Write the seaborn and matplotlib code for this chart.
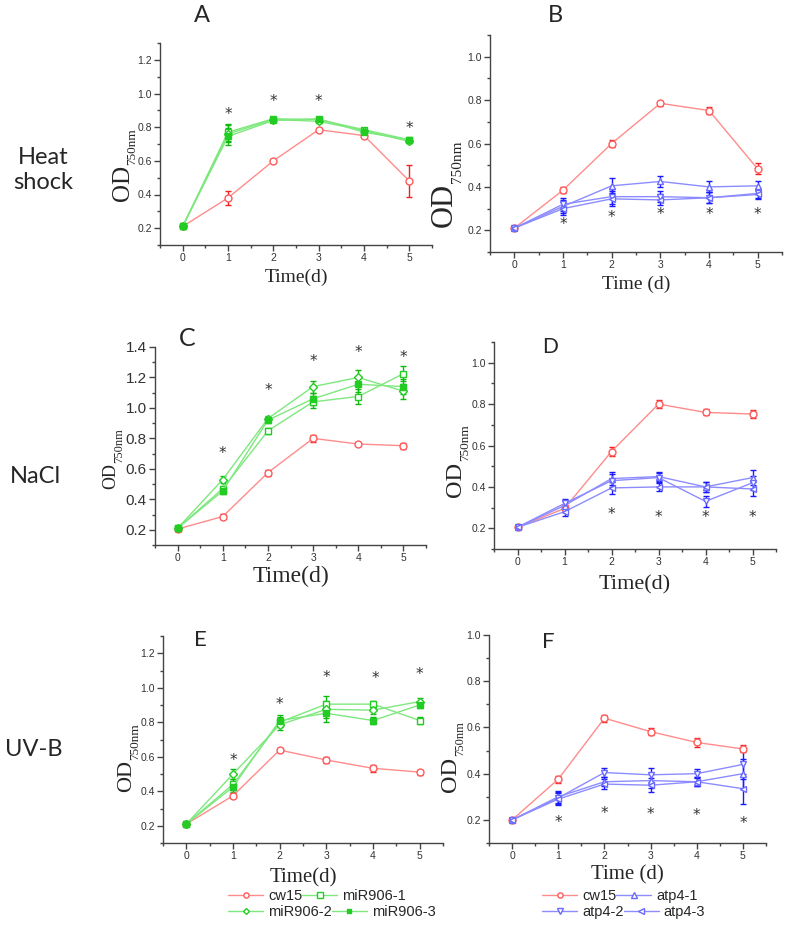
import matplotlib.pyplot as plt
import pandas as pd
import seaborn as sns
from matplotlib.ticker import MultipleLocator

sns.set_style('ticks')
plt.rcParams['font.family'] = ['Liberation Sans', 'DejaVu Sans']

# ---------------- data ----------------
days = [0, 1, 2, 3, 4, 5]

mir_names = ['cw15', 'miR906-1', 'miR906-2', 'miR906-3']
atp_names = ['cw15', 'atp4-1', 'atp4-2', 'atp4-3']

# A: heat shock, miR906 lines
a_cw15 = [0.21, 0.38, 0.60, 0.785, 0.75, 0.48]
a_mir1 = [0.21, 0.77, 0.85, 0.845, 0.785, 0.725]
a_mir2 = [0.21, 0.76, 0.845, 0.835, 0.78, 0.715]
a_mir3 = [0.21, 0.745, 0.84, 0.85, 0.77, 0.725]
a_err_cw15 = [0.01, 0.04, 0.01, 0.01, 0.01, 0.095]
a_err_mir = [0.01, 0.05, 0.01, 0.01, 0.01, 0.01]
a_star_x = [1, 2, 3, 5]
a_star_y = [0.90, 0.975, 0.975, 0.815]

# B: heat shock, atp4 lines
b_cw15 = [0.21, 0.385, 0.60, 0.785, 0.752, 0.483]
b_atp1 = [0.21, 0.31, 0.405, 0.425, 0.40, 0.405]
b_atp2 = [0.21, 0.32, 0.355, 0.355, 0.35, 0.37]
b_atp3 = [0.21, 0.30, 0.345, 0.34, 0.35, 0.365]
b_err_cw15 = [0.01, 0.015, 0.015, 0.012, 0.015, 0.025]
b_err_atp = [0.01, 0.03, 0.035, 0.025, 0.025, 0.02]
b_star_x = [1, 2, 3, 4, 5]
b_star_y = [0.246, 0.277, 0.29, 0.29, 0.29]

# C: NaCl, miR906 lines
c_cw15 = [0.205, 0.287, 0.575, 0.80, 0.763, 0.752]
c_mir1 = [0.21, 0.47, 0.85, 1.04, 1.075, 1.225]
c_mir2 = [0.21, 0.53, 0.93, 1.14, 1.20, 1.11]
c_mir3 = [0.21, 0.455, 0.92, 1.06, 1.155, 1.14]
c_err_cw15 = [0.01, 0.015, 0.02, 0.025, 0.015, 0.02]
c_err_mir = [0.015, 0.02, 0.02, 0.04, 0.05, 0.05]
c_star_x = [1, 2, 3, 4, 5]
c_star_y = [0.728, 1.143, 1.33, 1.39, 1.36]

# D: NaCl, atp4 lines
d_cw15 = [0.205, 0.296, 0.571, 0.80, 0.76, 0.752]
d_atp1 = [0.205, 0.31, 0.44, 0.45, 0.40, 0.445]
d_atp2 = [0.205, 0.32, 0.43, 0.445, 0.33, 0.42]
d_atp3 = [0.205, 0.28, 0.395, 0.40, 0.40, 0.39]
d_err_cw15 = [0.01, 0.015, 0.02, 0.02, 0.015, 0.02]
d_err_atp = [0.01, 0.02, 0.03, 0.02, 0.025, 0.035]
d_star_x = [2, 3, 4, 5]
d_star_y = [0.288, 0.272, 0.27, 0.27]

# E: UV-B, miR906 lines
e_cw15 = [0.21, 0.374, 0.639, 0.581, 0.533, 0.511]
e_mir1 = [0.21, 0.44, 0.80, 0.905, 0.905, 0.81]
e_mir2 = [0.21, 0.50, 0.785, 0.875, 0.87, 0.92]
e_mir3 = [0.21, 0.425, 0.81, 0.852, 0.81, 0.90]
e_err_cw15 = [0.01, 0.015, 0.01, 0.015, 0.02, 0.015]
e_err_mir = [0.01, 0.03, 0.03, 0.05, 0.02, 0.02]
e_star_x = [1, 2, 3, 4.05, 5]
e_star_y = [0.60, 0.925, 1.085, 1.075, 1.10]

# F: UV-B, atp4 lines
f_cw15 = [0.20, 0.376, 0.64, 0.582, 0.535, 0.507]
f_atp1 = [0.20, 0.30, 0.365, 0.37, 0.365, 0.40]
f_atp2 = [0.20, 0.295, 0.405, 0.395, 0.40, 0.44]
f_atp3 = [0.20, 0.29, 0.355, 0.35, 0.365, 0.335]
f_err_cw15 = [0.01, 0.015, 0.015, 0.015, 0.02, 0.015]
f_err_atp = [0.01, 0.025, 0.02, 0.03, 0.02, 0.065]
f_star_x = [1, 2, 3, 4, 5]
f_star_y = [0.206, 0.246, 0.243, 0.236, 0.203]

# ---------------- styles ----------------
RED = dict(line='#ff8c8c', edge='#ff5a5a', err='#ee2222')
GREEN = dict(line='#7ee87e', edge='#22cc22', err='#10b810')
BLUE = dict(line='#8c8cff', edge='#6a6aff', err='#1a1aff')

mir_markers = ['o', 's', 'D', 's']
mir_fill = ['white', 'white', 'white', GREEN['edge']]
mir_ms = [5, 5, 4, 4]
atp_markers = ['o', '^', 'v', '<']

W, H = 787, 925
fig = plt.figure(figsize=(W / 100, H / 100), dpi=100)


def px_axes(left, top, right, bottom):
    ax = fig.add_axes([left / W, 1 - bottom / H, (right - left) / W, (bottom - top) / H])
    ax.px_box = (left, top, right, bottom)
    return ax


def draw_panel(ax, series, errs, names, kind, ylim, stars, ylab, xlab, ytick_size=7.5):
    for i, (vals, name) in enumerate(zip(series, names)):
        pal = RED if i == 0 else (GREEN if kind == 'mir' else BLUE)
        if kind == 'mir':
            mk, fc, ms = mir_markers[i], mir_fill[i], mir_ms[i]
        else:
            mk, fc, ms = atp_markers[i], 'white', 5
        err = errs[0] if i == 0 else errs[1]
        ax.errorbar(days, vals, yerr=err, fmt='none', ecolor=pal['err'],
                    elinewidth=1, capsize=2.5, capthick=1, zorder=2)
        sns.lineplot(x=days, y=vals, ax=ax, color=pal['line'], linewidth=1,
                     marker=mk, markersize=ms, markerfacecolor=fc,
                     markeredgecolor=pal['edge'], markeredgewidth=1,
                     label=name, zorder=3)
    if ax.get_legend() is not None:
        ax.get_legend().remove()
    # significance stars; the glyph sits high in its box, so nudge it down
    for sx, sy in zip(*stars):
        ax.annotate('*', xy=(sx, sy), xytext=(0, -3), textcoords='offset points',
                    ha='center', va='center', fontsize=11, color='#333333',
                    fontfamily='DejaVu Sans')
    ax.set_xlim(-0.5, 5.5)
    ax.set_ylim(*ylim)
    ax.xaxis.set_major_locator(MultipleLocator(1))
    ax.xaxis.set_minor_locator(MultipleLocator(0.5))
    ax.yaxis.set_major_locator(MultipleLocator(0.2))
    ax.yaxis.set_minor_locator(MultipleLocator(0.1))
    ax.tick_params(axis='both', which='major', length=4, width=1,
                   color='#444444', labelcolor='#333333', pad=2)
    ax.tick_params(axis='both', which='minor', length=2.5, width=1, color='#444444')
    ax.tick_params(axis='x', labelsize=7.5)
    ax.tick_params(axis='y', labelsize=ytick_size)
    sns.despine(ax=ax)
    for s in ('left', 'bottom'):
        ax.spines[s].set_color('#444444')
        ax.spines[s].set_linewidth(1)

    # OD with a small, deep subscript as in the original
    od_size, sub_size, base_x, mid_y = ylab
    left, top, right, bottom = ax.px_box
    em_px = od_size * 100 / 72
    ax.set_ylabel('OD', fontsize=od_size, family='Liberation Serif')
    ax.yaxis.set_label_coords((base_x + 0.22 * em_px - left) / (right - left),
                              1 - (mid_y - top) / (bottom - top))
    ax.annotate('750nm', xy=(1, 1), xycoords=ax.yaxis.label,
                xytext=(-(0.22 * od_size + 1), 0), textcoords='offset points',
                rotation=90, ha='left', va='bottom', fontsize=sub_size,
                family='Liberation Serif')

    xtext, xsize, xpad = xlab
    ax.set_xlabel(xtext, fontsize=xsize, family='Liberation Serif', labelpad=xpad)


axA = px_axes(160, 43, 432, 245)
axB = px_axes(490, 35, 782, 252)
axC = px_axes(155, 347, 426, 545)
axD = px_axes(494, 342, 776, 549)
axE = px_axes(163, 636, 443, 843)
axF = px_axes(489, 635, 766, 843)

draw_panel(axA, [a_cw15, a_mir1, a_mir2, a_mir3], [a_err_cw15, a_err_mir], mir_names, 'mir',
           (0.1, 1.3), (a_star_x, a_star_y), (18, 9.5, 128, 183), ('Time(d)', 14, 4))
draw_panel(axB, [b_cw15, b_atp1, b_atp2, b_atp3], [b_err_cw15, b_err_atp], atp_names, 'atp',
           (0.1, 1.1), (b_star_x, b_star_y), (22, 11, 452, 205), ('Time (d)', 14, 4))
draw_panel(axC, [c_cw15, c_mir1, c_mir2, c_mir3], [c_err_cw15, c_err_mir], mir_names, 'mir',
           (0.1, 1.4), (c_star_x, c_star_y), (13, 9, 115, 476), ('Time(d)', 17, 2),
           ytick_size=11)
draw_panel(axD, [d_cw15, d_atp1, d_atp2, d_atp3], [d_err_cw15, d_err_atp], atp_names, 'atp',
           (0.1, 1.1), (d_star_x, d_star_y), (17.5, 9.5, 461, 479), ('Time(d)', 16, 6))
draw_panel(axE, [e_cw15, e_mir1, e_mir2, e_mir3], [e_err_cw15, e_err_mir], mir_names, 'mir',
           (0.1, 1.3), (e_star_x, e_star_y), (16, 9.5, 131, 776), ('Time(d)', 15, 5))
draw_panel(axF, [f_cw15, f_atp1, f_atp2, f_atp3], [f_err_cw15, f_err_atp], atp_names, 'atp',
           (0.1, 1.0), (f_star_x, f_star_y), (17.5, 9, 456, 774), ('Time (d)', 15, 3))

# panel letters
for lab, x, y, s in [('A', 202, 15, 17), ('B', 555, 16, 17), ('C', 187, 338, 18),
                     ('D', 550, 347, 15), ('E', 200, 640, 16), ('F', 548, 642, 16)]:
    fig.text(x / W, 1 - y / H, lab, ha='center', va='center', fontsize=s,
             family=['Lato', 'DejaVu Sans'])

# row labels
for lab, x, y in [('Heat\nshock', 43, 170), ('NaCl', 35, 477), ('UV-B', 34, 750)]:
    fig.text(x / W, 1 - y / H, lab, ha='center', va='center', fontsize=17,
             family=['Lato', 'DejaVu Sans'], linespacing=1.2)


# legends: each row laid out on its own, as in the original
def legend_rows(ax, x_px):
    h, l = ax.get_legend_handles_labels()
    for row, y_px in ((0, 896), (1, 912)):
        idx = [0, 1] if row == 0 else [2, 3]
        fig.legend([h[i] for i in idx], [l[i] for i in idx], loc='center left',
                   bbox_to_anchor=(x_px / W, 1 - y_px / H), ncol=2, frameon=False,
                   fontsize=10.5, handlelength=2.4, handletextpad=0.35,
                   columnspacing=0.0, borderpad=0, borderaxespad=0,
                   markerscale=0.75)


legend_rows(axA, 228)
legend_rows(axB, 542)

fig.savefig('out.png', dpi=100)
